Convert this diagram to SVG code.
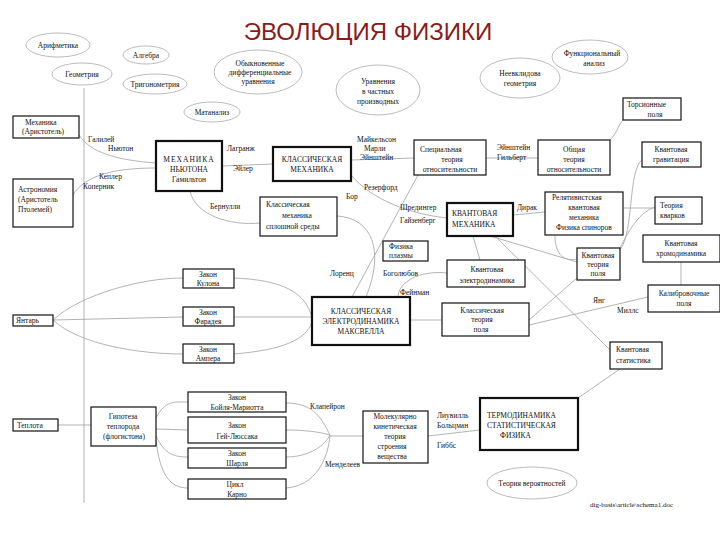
<svg xmlns="http://www.w3.org/2000/svg" width="720" height="540" viewBox="0 0 720 540">
<style>
text{font-family:"Liberation Serif",serif;font-size:7.5px;fill:#111}
.c{text-anchor:middle}
.t{font-family:"Liberation Sans",sans-serif;font-size:24px;fill:#8b1a1a;text-anchor:middle}
.b{fill:#fff;stroke:#111;stroke-width:1.2}
.k{fill:#fff;stroke:#111;stroke-width:2.2}
.e{fill:none;stroke:#aaa;stroke-width:0.8}
#conn path,#conn line{fill:none;stroke:#aaa;stroke-width:0.9}
</style>
<rect width="720" height="540" fill="#fff"/>
<text class="t" x="368" y="40">ЭВОЛЮЦИЯ ФИЗИКИ</text>
<g id="conn">
<line x1="84" y1="88" x2="84" y2="503"/>
<path d="M79,135 C90,152 115,160 156,163"/>
<path d="M73,195 C85,175 115,168 156,168"/>
<line x1="222" y1="166" x2="273" y2="164"/>
<path d="M190,191 C195,215 230,226 260,223"/>
<path d="M351,175 C372,200 410,214 447,218"/>
<line x1="351" y1="160" x2="414" y2="158"/>
<line x1="486" y1="158" x2="538" y2="158"/>
<line x1="418" y1="175" x2="352" y2="297"/>
<path d="M337,216 C372,218 385,250 366,297"/>
<path d="M610,140 C618,132 618,125 623,120"/>
<line x1="513" y1="215" x2="545" y2="212"/>
<line x1="473" y1="236" x2="480" y2="260"/>
<line x1="490" y1="236" x2="577" y2="262"/>
<line x1="495" y1="236" x2="610" y2="350"/>
<path d="M555,236 C555,255 565,262 577,259"/>
<path d="M642,160 C628,170 634,232 620,250"/>
<line x1="624" y1="208" x2="655" y2="208"/>
<path d="M655,207 C640,212 630,228 620,248"/>
<line x1="681" y1="262" x2="681" y2="285"/>
<line x1="648" y1="297" x2="529" y2="325"/>
<line x1="529" y1="320" x2="577" y2="278"/>
<line x1="410" y1="320" x2="442" y2="320"/>
<path d="M447,273 C420,270 398,282 398,297"/>
<path d="M234,278 C282,280 306,292 312,318"/>
<line x1="234" y1="317" x2="312" y2="317"/>
<path d="M234,354 C282,350 306,340 312,322"/>
<path d="M53,320 C80,295 140,278 183,278"/>
<line x1="53" y1="320" x2="183" y2="317"/>
<path d="M53,320 C80,345 140,354 183,354"/>
<line x1="58" y1="425" x2="91" y2="425"/>
<path d="M156,418 C165,400 175,402 188,402"/>
<line x1="156" y1="429" x2="188" y2="430"/>
<path d="M156,436 C165,455 175,457 188,457"/>
<path d="M156,440 C160,475 170,488 188,488"/>
<path d="M286,403 C315,403 322,420 330,435"/>
<path d="M286,430 C305,430 320,432 330,435"/>
<path d="M286,457 C310,457 325,445 330,435"/>
<path d="M286,488 C315,486 328,460 330,435"/>
<line x1="330" y1="436" x2="363" y2="436"/>
<line x1="428" y1="436" x2="480" y2="430"/>
<line x1="578" y1="398" x2="620" y2="369"/>
</g>
<g id="ellipses">
<g id="n-arif"><ellipse class="e" cx="58" cy="45" rx="32" ry="12"/><text class="c" x="58" y="48">Арифметика</text></g>
<g id="n-alg"><ellipse class="e" cx="146" cy="55" rx="23" ry="9"/><text class="c" x="146" y="58">Алгебра</text></g>
<g id="n-geom"><ellipse class="e" cx="82" cy="74" rx="30" ry="11"/><text class="c" x="82" y="77">Геометрия</text></g>
<g id="n-trig"><ellipse class="e" cx="155" cy="84" rx="32" ry="10"/><text class="c" x="155" y="87">Тригонометрия</text></g>
<g id="n-ode"><ellipse class="e" cx="258" cy="72" rx="44" ry="22"/><text class="c" x="260" y="66">Обыкновенные</text><text class="c" x="260" y="75">дифференциальные</text><text class="c" x="258" y="84">уравнения</text></g>
<g id="n-mat"><ellipse class="e" cx="212" cy="112" rx="28" ry="10"/><text class="c" x="212" y="115">Матанализ</text></g>
<g id="n-pde"><ellipse class="e" cx="378" cy="90" rx="42" ry="25"/><text class="c" x="378" y="84">Уравнения</text><text class="c" x="378" y="94">в частных</text><text class="c" x="378" y="104">производных</text></g>
<g id="n-neev"><ellipse class="e" cx="520" cy="78" rx="40" ry="20"/><text class="c" x="520" y="76">Неевклидова</text><text class="c" x="520" y="86">геометрия</text></g>
<g id="n-func"><ellipse class="e" cx="590" cy="57" rx="38" ry="17"/><text class="c" x="592" y="56">Функциональный</text><text class="c" x="594" y="66">анализ</text></g>
<g id="n-prob"><ellipse class="e" cx="532" cy="483" rx="45" ry="16"/><text class="c" x="532" y="486">Теория вероятностей</text></g>
</g>
<g id="n-arist"><rect class="b" x="13" y="116" width="66" height="22"/><text x="25" y="125">Механика</text><text x="22" y="134">(Аристотель)</text></g>
<g id="n-astro"><rect class="b" x="13" y="179" width="60" height="48"/><text x="18" y="192">Астрономия</text><text x="18" y="202">(Аристотель</text><text x="18" y="212">Птолемей)</text></g>
<g id="n-newton"><rect class="k" x="156" y="141" width="66" height="50"/><text class="c" x="189" y="162" style="letter-spacing:1px">МЕХАНИКА</text><text class="c" x="189" y="172">НЬЮТОНА</text><text class="c" x="189" y="182">Гамильтон</text></g>
<g id="n-clmech"><rect class="k" x="273" y="147" width="78" height="34"/><text class="c" x="312" y="162">КЛАССИЧЕСКАЯ</text><text class="c" x="312" y="172">МЕХАНИКА</text></g>
<g id="n-sto"><rect class="b" x="414" y="140" width="72" height="35"/><text x="420" y="152">Специальная</text><text class="c" x="452" y="162">теория</text><text class="c" x="450" y="172">относительности</text></g>
<g id="n-oto"><rect class="b" x="538" y="140" width="72" height="35"/><text class="c" x="574" y="152">Общая</text><text class="c" x="574" y="162">теория</text><text class="c" x="574" y="172">относительности</text></g>
<g id="n-tors"><rect class="b" x="623" y="98" width="58" height="22"/><text x="627" y="107">Торсионные</text><text class="c" x="655" y="117">поля</text></g>
<g id="n-qgrav"><rect class="b" x="642" y="142" width="59" height="25"/><text class="c" x="671" y="152">Квантовая</text><text class="c" x="671" y="162">гравитация</text></g>
<g id="n-rqm"><rect class="b" x="545" y="192" width="78" height="43"/><text x="552" y="200">Релятивистская</text><text class="c" x="584" y="210">квантовая</text><text class="c" x="584" y="220">механика</text><text class="c" x="584" y="230">Физика спиноров</text></g>
<g id="n-quark"><rect class="b" x="655" y="197" width="47" height="27"/><text x="660" y="208">Теория</text><text x="660" y="218">кварков</text></g>
<g id="n-qm"><rect class="k" x="447" y="203" width="66" height="33"/><text x="452" y="216">КВАНТОВАЯ</text><text x="452" y="227">МЕХАНИКА</text></g>
<g id="n-plasma"><rect class="b" x="383" y="241" width="45" height="20"/><text x="389" y="249">Физика</text><text x="389" y="258">плазмы</text></g>
<g id="n-qcd"><rect class="b" x="643" y="235" width="77" height="27"/><text class="c" x="681" y="246">Квантовая</text><text class="c" x="681" y="256">хромодинамика</text></g>
<g id="n-qft"><rect class="b" x="577" y="248" width="43" height="32"/><text class="c" x="598" y="258">Квантовая</text><text class="c" x="598" y="267">теория</text><text class="c" x="598" y="276">поля</text></g>
<g id="n-qed"><rect class="b" x="447" y="260" width="78" height="27"/><text class="c" x="487" y="272">Квантовая</text><text class="c" x="487" y="283">электродинамика</text></g>
<g id="n-gauge"><rect class="b" x="648" y="285" width="72" height="27"/><text class="c" x="684" y="296">Калибровочные</text><text class="c" x="684" y="306">поля</text></g>
<g id="n-maxwell"><rect class="k" x="312" y="297" width="98" height="48"/><text class="c" x="361" y="314">КЛАССИЧЕСКАЯ</text><text class="c" x="361" y="324">ЭЛЕКТРОДИНАМИКА</text><text class="c" x="361" y="334">МАКСВЕЛЛА</text></g>
<g id="n-clft"><rect class="b" x="442" y="303" width="87" height="33"/><text class="c" x="482" y="313">Классическая</text><text class="c" x="482" y="322">теория</text><text class="c" x="481" y="332">поля</text></g>
<g id="n-qstat"><rect class="b" x="610" y="342" width="52" height="27"/><text x="616" y="352">Квантовая</text><text x="616" y="363">статистика</text></g>
<g id="n-cont"><rect class="b" x="260" y="197" width="77" height="39"/><text x="266" y="207">Классическая</text><text class="c" x="297" y="218">механика</text><text x="266" y="229">сплошной среды</text></g>
<g id="n-coul"><rect class="b" x="183" y="269" width="51" height="19"/><text class="c" x="208" y="277">Закон</text><text class="c" x="208" y="286">Кулона</text></g>
<g id="n-farad"><rect class="b" x="183" y="307" width="51" height="19"/><text class="c" x="208" y="315">Закон</text><text class="c" x="208" y="324">Фарадея</text></g>
<g id="n-amp"><rect class="b" x="183" y="344" width="51" height="19"/><text class="c" x="208" y="352">Закон</text><text class="c" x="208" y="361">Ампера</text></g>
<g id="n-amber"><rect class="b" x="13" y="315" width="40" height="11"/><text x="16" y="323">Янтарь</text></g>
<g id="n-heat"><rect class="b" x="13" y="419" width="45" height="12"/><text x="17" y="428">Теплота</text></g>
<g id="n-phlog"><rect class="b" x="91" y="407" width="65" height="39"/><text class="c" x="123" y="419">Гипотеза</text><text class="c" x="123" y="429">теплорода</text><text class="c" x="124" y="439">(флогистона)</text></g>
<g id="n-boyle"><rect class="b" x="188" y="392" width="98" height="20"/><text class="c" x="237" y="400">Закон</text><text class="c" x="237" y="410">Бойля-Мариотта</text></g>
<g id="n-gay"><rect class="b" x="188" y="417" width="98" height="26"/><text class="c" x="237" y="428">Закон</text><text class="c" x="237" y="439">Гей-Люссака</text></g>
<g id="n-charles"><rect class="b" x="188" y="448" width="98" height="20"/><text class="c" x="237" y="456">Закон</text><text class="c" x="237" y="466">Шарля</text></g>
<g id="n-carnot"><rect class="b" x="188" y="479" width="98" height="20"/><text class="c" x="235" y="487">Цикл</text><text class="c" x="237" y="497">Карно</text></g>
<g id="n-mkt"><rect class="b" x="363" y="411" width="65" height="52"/><text class="c" x="395" y="419">Молекулярно</text><text class="c" x="395" y="429">кинетическая</text><text class="c" x="395" y="439">теория</text><text class="c" x="392" y="449">строения</text><text class="c" x="392" y="459">вещества</text></g>
<g id="n-thermo"><rect class="k" x="480" y="398" width="98" height="52"/><text x="487" y="418">ТЕРМОДИНАМИКА</text><text x="487" y="428">СТАТИСТИЧЕСКАЯ</text><text x="500" y="438">ФИЗИКА</text></g>
<g id="labels">
<text x="88" y="142">Галилей</text><text x="108" y="151">Ньютон</text>
<text x="99" y="179">Кеплер</text><text x="83" y="189">Коперник</text>
<text x="227" y="151">Лагранж</text><text x="233" y="171">Эйлер</text>
<text x="210" y="209">Бернулли</text>
<text x="357" y="142">Майкельсон</text><text x="364" y="151">Марли</text><text x="360" y="160">Эйнштейн</text>
<text x="497" y="150">Эйнштейн</text><text x="497" y="160">Гильберт</text>
<text x="364" y="190">Резерфорд</text><text x="346" y="199">Бор</text>
<text x="400" y="210">Шредингер</text><text x="400" y="223">Гайзенберг</text>
<text x="517" y="210">Дирак</text>
<text x="330" y="276">Лоренц</text><text x="383" y="276">Боголюбов</text><text x="400" y="295">Фейнман</text>
<text x="593" y="303">Янг</text><text x="617" y="313">Миллс</text>
<text x="310" y="409">Клапейрон</text><text x="325" y="467">Менделеев</text>
<text x="437" y="418">Лиувилль</text><text x="437" y="428">Больцман</text><text x="437" y="448">Гиббс</text>
<text x="590" y="507" style="font-size:7px">dig-basis\article\schema1.doc</text>
</g>
</svg>
